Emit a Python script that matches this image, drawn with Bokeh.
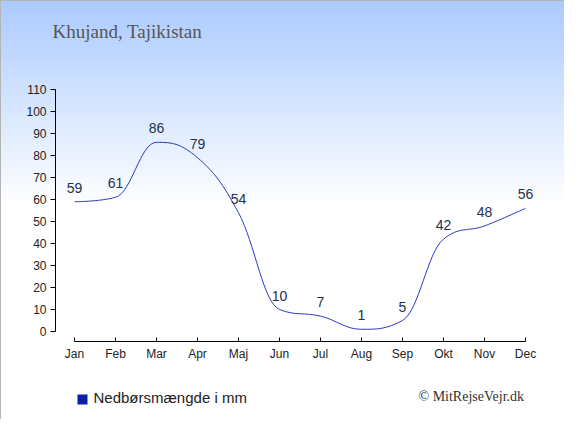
from bokeh.plotting import figure
from bokeh.models import Range1d, FixedTicker, Label, BoxAnnotation, ColumnDataSource
from bokeh.core.properties import value
from bokeh.embed import file_html
from bokeh.resources import INLINE

# ---- data ----
months = ["Jan", "Feb", "Mar", "Apr", "Maj", "Jun", "Jul", "Aug", "Sep", "Okt", "Nov", "Dec"]
precip = [59, 61, 86, 79, 54, 10, 7, 1, 5, 42, 48, 56]
y_ticks = list(range(0, 111, 10))
title_text = "Khujand, Tajikistan"
legend_text = "Nedbørsmængde i mm"
credit_text = "© MitRejseVejr.dk"

xs = list(range(len(months)))


def spline_controls(xv, yv, smoothing=1.5):
    n = len(xv)
    denom = smoothing + 1
    lc = [None] * n
    rc = [None] * n
    for i in range(1, n - 1):
        px, py = xv[i], yv[i]
        lx, ly = xv[i - 1], yv[i - 1]
        nx, ny = xv[i + 1], yv[i + 1]
        lcx = (smoothing * px + lx) / denom
        lcy = (smoothing * py + ly) / denom
        rcx = (smoothing * px + nx) / denom
        rcy = (smoothing * py + ny) / denom
        corr = 0.0
        if rcx != lcx:
            corr = (rcy - lcy) * (rcx - px) / (rcx - lcx) + py - rcy
        lcy += corr
        rcy += corr
        if lcy > ly and lcy > py:
            lcy = max(ly, py)
            rcy = 2 * py - lcy
        elif lcy < ly and lcy < py:
            lcy = min(ly, py)
            rcy = 2 * py - lcy
        if rcy > ny and rcy > py:
            rcy = max(ny, py)
            lcy = 2 * py - rcy
        elif rcy < ny and rcy < py:
            rcy = min(ny, py)
            lcy = 2 * py - rcy
        lc[i] = (lcx, lcy)
        rc[i] = (rcx, rcy)
    return lc, rc


lc, rc = spline_controls(xs, precip)
seg = dict(x0=[], y0=[], x1=[], y1=[], cx0=[], cy0=[], cx1=[], cy1=[])
for i in range(len(xs) - 1):
    seg["x0"].append(xs[i]); seg["y0"].append(precip[i])
    seg["x1"].append(xs[i + 1]); seg["y1"].append(precip[i + 1])
    c0 = rc[i] if rc[i] is not None else (xs[i], precip[i])
    c1 = lc[i + 1] if lc[i + 1] is not None else (xs[i + 1], precip[i + 1])
    seg["cx0"].append(c0[0]); seg["cy0"].append(c0[1])
    seg["cx1"].append(c1[0]); seg["cy1"].append(c1[1])

# ---- layout (pixels) ----
W, H = 564, 419
px_month = 41.0      # px per month
px_unit = 2.2        # px per mm
jan_px = 74          # x pixel of Jan
zero_py = 331        # y pixel of 0 mm
yaxis_px = 55        # x pixel of y axis line
xaxis_py = 341       # y pixel of x axis line

x_start = -jan_px / px_month
y_end = zero_py / px_unit

p = figure(width=W, height=H, output_backend="svg", toolbar_location=None,
           x_range=Range1d(x_start, x_start + W / px_month),
           y_range=Range1d(y_end - H / px_unit, y_end),
           min_border=0, min_border_left=0, min_border_right=0,
           min_border_top=0, min_border_bottom=0)
p.styles = {"background": "linear-gradient(to bottom, #aacafe 0px, #ffffff 205px)",
            "box-shadow": "inset 1px 1px 0 #b4b4b4"}
p.border_fill_alpha = 0
p.background_fill_alpha = 0
p.outline_line_color = None
p.grid.visible = False

# axes (placed inside the canvas at fixed locations)
p.xaxis.fixed_location = -(xaxis_py - zero_py) / px_unit
p.yaxis.fixed_location = (yaxis_px - jan_px) / px_month

p.xaxis.ticker = FixedTicker(ticks=xs)
p.xaxis.major_label_overrides = {i: m for i, m in enumerate(months)}
p.xaxis.bounds = (0, len(months) - 1)
p.xaxis.major_tick_in = 4
p.xaxis.major_tick_out = 0
p.xaxis.minor_tick_line_color = None
p.xaxis.major_label_standoff = 5

p.yaxis.ticker = FixedTicker(ticks=y_ticks)
p.yaxis.bounds = (0, 110)
p.yaxis.major_tick_in = 0
p.yaxis.major_tick_out = 5
p.yaxis.minor_tick_line_color = None
p.yaxis.major_label_standoff = 4

for ax in (p.xaxis, p.yaxis):
    ax.axis_line_color = "black"
    ax.major_tick_line_color = "black"
    ax.major_label_text_font = "Liberation Sans"
    ax.major_label_text_font_size = "12px"
    ax.major_label_text_color = "#222222"

# line
p.bezier(source=ColumnDataSource(seg), x0="x0", y0="y0", x1="x1", y1="y1",
         cx0="cx0", cy0="cy0", cx1="cx1", cy1="cy1",
         line_color="#2b3bc4", line_width=1)

# value labels
p.text(x=xs, y=precip, text=[str(v) for v in precip], text_align="center",
       text_baseline="alphabetic", y_offset=-14,
       text_font=value("Liberation Sans"), text_font_size="14px",
       text_color="#23314f")

# title
p.add_layout(Label(x=52, y=H - 31, x_units="screen", y_units="screen", text=title_text,
                   text_font="Liberation Serif", text_font_size="19px",
                   text_color="#555555", text_baseline="middle"))

# legend
p.add_layout(BoxAnnotation(left=77, right=87, top=H - 394, bottom=H - 404,
                           left_units="screen", right_units="screen",
                           top_units="screen", bottom_units="screen",
                           fill_color="#0d1fa6", fill_alpha=1,
                           line_color="#8090d0", line_width=0.5))
p.add_layout(Label(x=93, y=H - 397, x_units="screen", y_units="screen", text=legend_text,
                   text_font="Liberation Sans", text_font_size="15px",
                   text_color="#222222", text_baseline="middle"))

# credit
p.add_layout(Label(x=418, y=H - 396, x_units="screen", y_units="screen", text=credit_text,
                   text_font="Liberation Serif", text_font_size="14px",
                   text_color="#333333", text_baseline="middle"))

open("out.html", "w").write(file_html(p, INLINE))
